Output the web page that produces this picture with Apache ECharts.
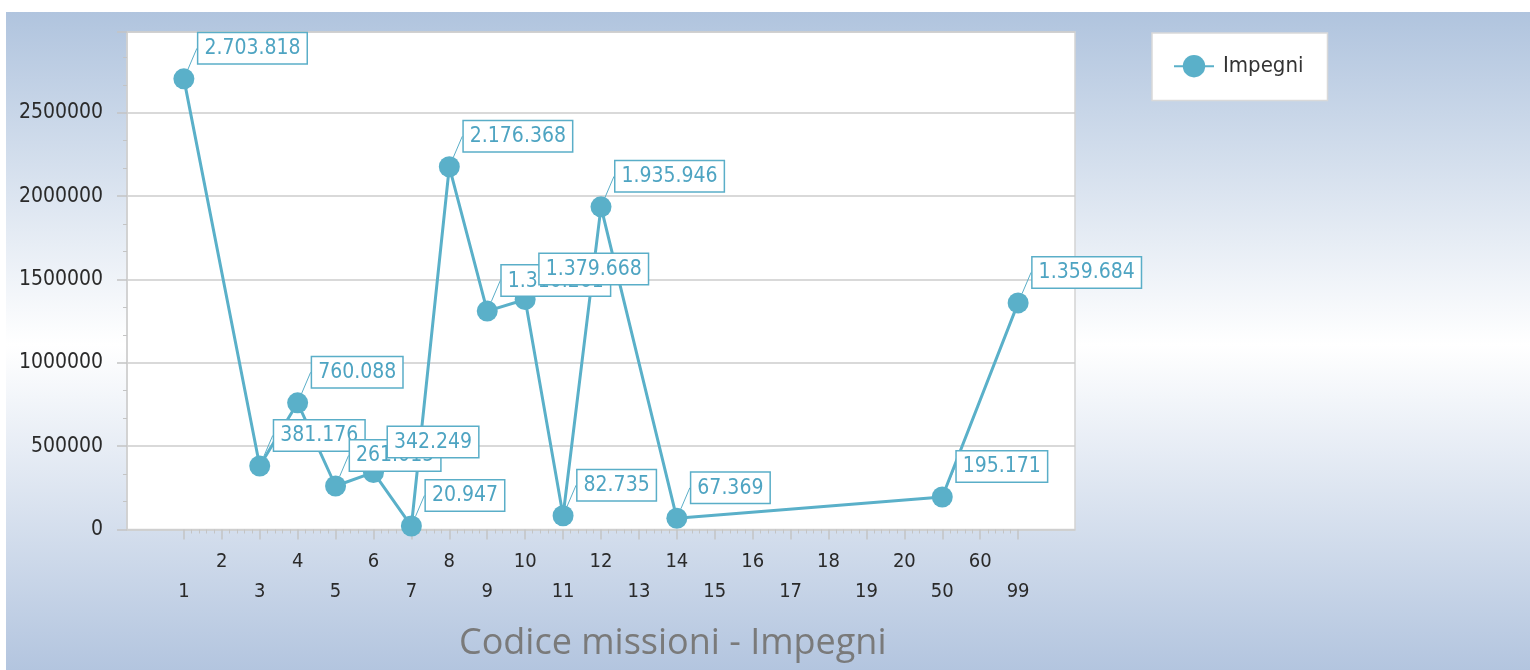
<!DOCTYPE html>
<html>
<head>
<meta charset="utf-8">
<script src="https://cdn.jsdelivr.net/npm/echarts@6/dist/echarts.min.js"></script>
<style>
html,body{margin:0;padding:0;background:#fff;}
#chart{width:1530px;height:670px;}
</style>
</head>
<body>
<div id="chart"></div>
<script>
const categories = ['1','2','3','4','5','6','7','8','9','10','11','12','13','14','15','16','17','18','19','20','50','60','99'];
const impegni = [2703818, null, 381176, 760088, 261015, 342249, 20947, 2176368, 1310261, 1379668, 82735, 1935946, null, 67369, null, null, null, null, null, null, 195171, null, 1359684];
const seriesName = 'Impegni';
const chartTitle = 'Codice missioni - Impegni';
const yMin = 0, yMax = 2985000, yStep = 500000;

const FONT = '"DejaVu Sans Condensed", "Liberation Sans", sans-serif';
const LINE_COLOR = '#5ab0c9';
const LABEL_COLOR = '#4ea4c2';

function fmt(v){ return String(v).replace(/\B(?=(\d{3})+(?!\d))/g, '.'); }

const idx = categories.map((c,i)=>i);
const minorTicks = [];
for (let i = 0; i < categories.length - 1; i++) {
  for (let k = 1; k < 5; k++) minorTicks.push(i + k / 5);
}
const data = [];
impegni.forEach((v,i)=>{ if (v !== null) data.push([i, v]); });

const chart = echarts.init(document.getElementById('chart'), null, {renderer:'canvas'});
chart.setOption({
  backgroundColor: '#ffffff',
  animation: false,
  graphic: [{
    type: 'rect', z: -10, silent: true,
    shape: {x: 6, y: 12, width: 1524, height: 658},
    style: {fill: new echarts.graphic.LinearGradient(0,0,0,1,[
      {offset:0, color:'#b0c4de'},
      {offset:0.506, color:'#ffffff'},
      {offset:1, color:'#b3c5df'}
    ])}
  }],
  title: {
    text: chartTitle,
    left: 459, top: 626, padding: 0,
    textStyle: {fontFamily: '"Open Sans", sans-serif', fontSize: 36, fontWeight: 'normal', color: '#7a7a7a'}
  },
  legend: {
    data: [seriesName],
    left: 1152, top: 33,
    orient: 'vertical',
    backgroundColor: '#ffffff',
    borderColor: '#d9d9d9', borderWidth: 1.5,
    padding: [22, 24, 23, 21],
    itemWidth: 40, itemHeight: 28,
    textStyle: {fontFamily: FONT, fontSize: 22, color: '#333', padding: [0,0,0,4]}
  },
  grid: {left: 127, top: 32, width: 948, height: 497.5, show: true, backgroundColor: '#ffffff', borderColor: '#d4d4d4', borderWidth: 1.5},
  xAxis: [{
    type: 'value', min: -1.5, max: categories.length + 0.5,
    splitLine: {show: false},
    axisLine: {show: true, onZero: false, lineStyle: {color: '#cfcfcf', width: 1.5}},
    axisTick: {show: true, customValues: idx, length: 10, lineStyle: {color: '#c4c4c4', width: 1.5}},
    axisLabel: {
      show: true, customValues: idx, margin: 17,
      fontFamily: FONT, fontSize: 20, color: '#2a2a2a', lineHeight: 30,
      formatter: function(v){ const i = Math.round(v); return (i % 2 === 0 ? '\n' : '') + categories[i]; }
    }
  }, {
    type: 'value', min: -1.5, max: categories.length + 0.5, position: 'bottom',
    splitLine: {show: false},
    axisLine: {show: false, onZero: false},
    axisTick: {show: true, customValues: minorTicks, length: 4, lineStyle: {color: '#c4c4c4', width: 1}},
    axisLabel: {show: false}
  }],
  yAxis: {
    type: 'value', min: yMin, max: yMax, interval: yStep,
    axisLine: {show: true, onZero: false, lineStyle: {color: '#cfcfcf', width: 1.5}},
    axisTick: {show: true, length: 10, lineStyle: {color: '#c4c4c4', width: 1.5}},
    minorTick: {show: true, splitNumber: 3, length: 4, lineStyle: {color: '#c4c4c4'}},
    splitLine: {show: true, lineStyle: {color: '#cccccc', width: 1.5}},
    axisLabel: {margin: 24, fontFamily: FONT, fontSize: 21, color: '#2a2a2a', showMaxLabel: false,
      formatter: function(v){ return String(v); }}
  },
  series: [{
    name: seriesName, type: 'line', xAxisIndex: 0,
    data: data,
    symbol: 'circle', symbolSize: 21,
    lineStyle: {color: LINE_COLOR, width: 3},
    itemStyle: {color: LINE_COLOR},
    label: {
      show: true,
      position: [25, -35],
      align: 'left', verticalAlign: 'top',
      formatter: function(p){ return fmt(p.value[1]); },
      fontFamily: FONT, fontSize: 21, color: LABEL_COLOR,
      backgroundColor: '#ffffff', borderColor: '#5aaec8', borderWidth: 1.5,
      padding: [4, 6, 3, 6], lineHeight: 23
    },
    labelLine: {show: true, lineStyle: {color: '#5aaec8', width: 1}}
  }]
});
</script>
</body>
</html>
